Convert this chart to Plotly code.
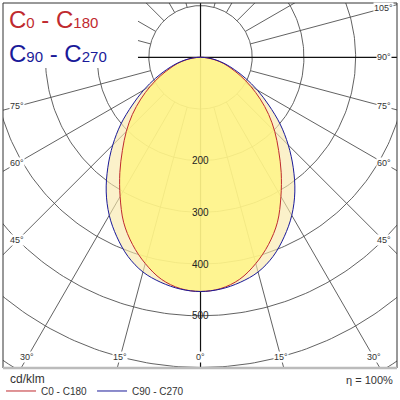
import numpy as np
import plotly.graph_objects as go

# luminous intensity in cd/klm against gamma angle
gamma = [0, 5, 10, 15, 20, 25, 30, 35, 40, 45, 50, 55, 60, 65, 70, 75, 80, 85, 90]
c0_c180 = [453, 449, 436, 413, 385, 352, 311, 272, 235, 203, 172, 141, 112, 86, 63, 46, 28, 12, 0]
c90_c270 = [453, 450, 442, 430, 410, 383, 353, 318, 279, 240, 201, 161, 127, 96, 70, 49, 31, 15, 0]

rings = [100, 200, 300, 400, 500, 600, 700]
ring_labels = [200, 300, 400, 500]
spokes = list(range(-165, 181, 15))
angle_labels = [-75, -60, -45, -30, -15, 0, 15, 30, 45, 60, 75, 90, 105]
unit_text = "cd/klm"
eta_text = "\u03b7 = 100%"

RED = "#bf2a2f"
BLUE = "#1a1a99"
GRID = "#505050"
FONT = "Liberation Sans, Arial, sans-serif"


def to_xy(r, deg):
    a = np.radians(deg)
    return r * np.sin(a), -r * np.cos(a)


def curve(vals):
    g = np.array(gamma, float)
    v = np.array(vals, float)
    g_all = np.concatenate([-g[::-1], g[1:]])
    v_all = np.concatenate([v[::-1], v[1:]])
    return to_xy(v_all, g_all)


fig = go.Figure()

# rings
rx, ry = [], []
t = np.linspace(0, 360, 361)
for r in rings:
    x, y = to_xy(r, t)
    rx += list(x) + [None]
    ry += list(y) + [None]
fig.add_trace(go.Scatter(x=rx, y=ry, mode="lines", line=dict(color=GRID, width=0.9),
                         hoverinfo="skip", showlegend=False))

# spokes, the main axes run from the centre, the others from the 100 ring
sx, sy, ax_x, ax_y = [], [], [], []
for a in spokes:
    if a % 90 == 0:
        x, y = to_xy(np.array([0, 900]), a)
        ax_x += list(x) + [None]
        ax_y += list(y) + [None]
    else:
        x, y = to_xy(np.array([100, 900]), a)
        sx += list(x) + [None]
        sy += list(y) + [None]
fig.add_trace(go.Scatter(x=sx, y=sy, mode="lines", line=dict(color=GRID, width=0.9),
                         hoverinfo="skip", showlegend=False))
fig.add_trace(go.Scatter(x=ax_x, y=ax_y, mode="lines", line=dict(color="#111111", width=1.2),
                         hoverinfo="skip", showlegend=False))

# fills
bx, by = curve(c90_c270)
cx, cy = curve(c0_c180)
fig.add_trace(go.Scatter(x=bx, y=by, mode="lines", fill="toself", line=dict(width=0, shape="spline"),
                         fillcolor="rgba(248,232,170,0.62)", hoverinfo="skip", showlegend=False))
fig.add_trace(go.Scatter(x=cx, y=cy, mode="lines", fill="toself", line=dict(width=0, shape="spline"),
                         fillcolor="rgba(255,245,130,0.8)", hoverinfo="skip", showlegend=False))

# curves
fig.add_trace(go.Scatter(x=cx, y=cy, mode="lines", name="C0 - C180",
                         line=dict(color=RED, width=1, shape="spline")))
fig.add_trace(go.Scatter(x=bx, y=by, mode="lines", name="C90 - C270",
                         line=dict(color=BLUE, width=1, shape="spline")))

# ring values along the 0 axis
for v in ring_labels:
    fig.add_annotation(x=0, y=-v, text=str(v), showarrow=False,
                       font=dict(family=FONT, size=10, color="#222222"))

# angle labels at the inset edge of the frame
for a in angle_labels:
    s, c = np.sin(np.radians(a)), np.cos(np.radians(a))
    tt = []
    if abs(s) > 1e-9:
        tt.append(354 / abs(s))
    if c > 1e-9:
        tt.append(580 / c)
    d = min(tt)
    x, y = to_xy(d, a)
    fig.add_annotation(x=x, y=y, text="%d\u00b0" % abs(a), showarrow=False,
                       bgcolor="white", borderpad=0,
                       font=dict(family=FONT, size=9, color="#333333"))

# white box behind the title, then the frame
fig.add_shape(type="rect", xref="paper", yref="paper", x0=-0.02, x1=0.3426, y0=0.822, y1=1.02,
              fillcolor="white", line=dict(width=0), layer="above")
for x0, y0, x1, y1 in [(0, 0, 0, 1), (0, 1, 1, 1), (1, 0, 1, 1)]:
    fig.add_shape(type="line", xref="paper", yref="paper", x0=x0, y0=y0, x1=x1, y1=y1,
                  line=dict(color="#333333", width=1), layer="above")
fig.add_shape(type="line", xref="paper", yref="paper", x0=0, y0=0, x1=1, y1=0,
              line=dict(color="#bbbbbb", width=2.5), layer="above")

small = "<span style='font-size:15px'>%s</span>"
fig.add_annotation(xref="paper", yref="paper", x=0.01, y=0.955, xanchor="left", yanchor="middle",
                   text="C" + small % "0" + " - C" + small % "180", showarrow=False,
                   font=dict(family=FONT, size=24, color=RED))
fig.add_annotation(xref="paper", yref="paper", x=0.01, y=0.863, xanchor="left", yanchor="middle",
                   text="C" + small % "90" + " - C" + small % "270", showarrow=False,
                   font=dict(family=FONT, size=24, color=BLUE))

fig.add_annotation(xref="paper", yref="paper", x=0.012, y=-0.031, xanchor="left", yanchor="middle",
                   text=unit_text, showarrow=False, font=dict(family=FONT, size=12, color="#333333"))
fig.add_annotation(xref="paper", yref="paper", x=0.995, y=-0.032, xanchor="right", yanchor="middle",
                   text=eta_text, showarrow=False, font=dict(family=FONT, size=11, color="#333333"))

fig.update_layout(
    width=400, height=400,
    margin=dict(l=3, r=3, t=3, b=32, autoexpand=False),
    plot_bgcolor="white", paper_bgcolor="white",
    xaxis=dict(range=[-382, 380], visible=False),
    yaxis=dict(range=[-601, 105], visible=False),
    legend=dict(orientation="h", x=-0.005, y=-0.063, xanchor="left", yanchor="middle",
                font=dict(family=FONT, size=10, color="#333333"),
                itemwidth=30, tracegroupgap=0, bgcolor="rgba(0,0,0,0)"),
)

fig.write_html("out.html", config={"displayModeBar": False},
               post_script="document.body.style.margin='0px';")
